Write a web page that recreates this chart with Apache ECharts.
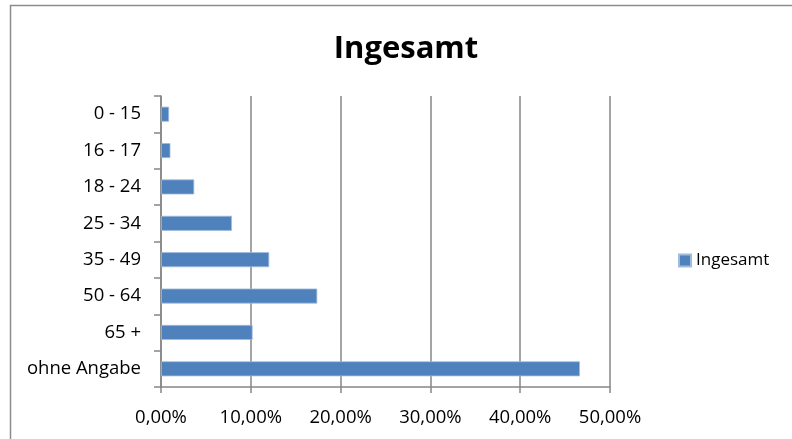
<!DOCTYPE html>
<html>
<head>
<meta charset="utf-8">
<script src="https://cdn.jsdelivr.net/npm/echarts@6/dist/echarts.min.js"></script>
<style>
html,body{margin:0;padding:0;background:#fff;}
#c{width:792px;height:439px;}
</style>
</head>
<body>
<div id="c"></div>
<script>
var categories = ['0 - 15', '16 - 17', '18 - 24', '25 - 34', '35 - 49', '50 - 64', '65 +', 'ohne Angabe'];
var values = [0.009, 0.0105, 0.037, 0.079, 0.1205, 0.174, 0.102, 0.4665];
var xTicks = [0, 0.1, 0.2, 0.3, 0.4, 0.5];
var seriesName = 'Ingesamt';
var titleText = 'Ingesamt';

var font = '"Open Sans", sans-serif';
var chart = echarts.init(document.getElementById('c'), null, {renderer: 'canvas'});
chart.setOption({
  animation: false,
  backgroundColor: '#fff',
  title: {
    text: titleText,
    left: 401, top: 29, textAlign: 'center',
    textStyle: {fontFamily: font, fontSize: 31, fontWeight: 'bold', color: '#000'}
  },
  graphic: [{
    type: 'rect', shape: {x: 10.5, y: 5.5, width: 800, height: 500},
    style: {fill: 'none', stroke: '#8c8c8c', lineWidth: 1.5}, silent: true, z: -1
  }],
  legend: {
    data: [seriesName], left: 673, top: 247, orient: 'vertical',
    itemWidth: 12, itemHeight: 12, itemGap: 6, icon: 'rect',
    textStyle: {fontFamily: font, fontSize: 17, color: '#000'}
  },
  grid: {left: 161, right: 182, top: 96, bottom: 52, containLabel: false},
  xAxis: {
    type: 'value', min: xTicks[0], max: xTicks[xTicks.length - 1], interval: 0.1,
    axisLine: {show: true, lineStyle: {color: '#868686', width: 1.5}},
    axisTick: {show: true, length: 6, lineStyle: {color: '#868686', width: 1.5}},
    splitLine: {show: true, lineStyle: {color: '#868686', width: 1.5}},
    axisLabel: {
      fontFamily: font, fontSize: 18.5, color: '#000', margin: 21,
      formatter: function (v) { return (v * 100).toFixed(2).replace('.', ',') + '%'; }
    }
  },
  yAxis: {
    type: 'category', data: categories, inverse: true,
    axisLine: {show: true, lineStyle: {color: '#868686', width: 1.5}},
    axisTick: {show: true, length: 7, alignWithLabel: false, lineStyle: {color: '#868686', width: 1.5}},
    splitLine: {show: false},
    axisLabel: {fontFamily: font, fontSize: 18.5, color: '#000', margin: 20}
  },
  series: [{
    name: seriesName, type: 'bar', data: values, barWidth: 15,
    itemStyle: {color: '#4F81BD', borderColor: '#9fbbdd', borderWidth: 0.8}
  }]
});
</script>
</body>
</html>
